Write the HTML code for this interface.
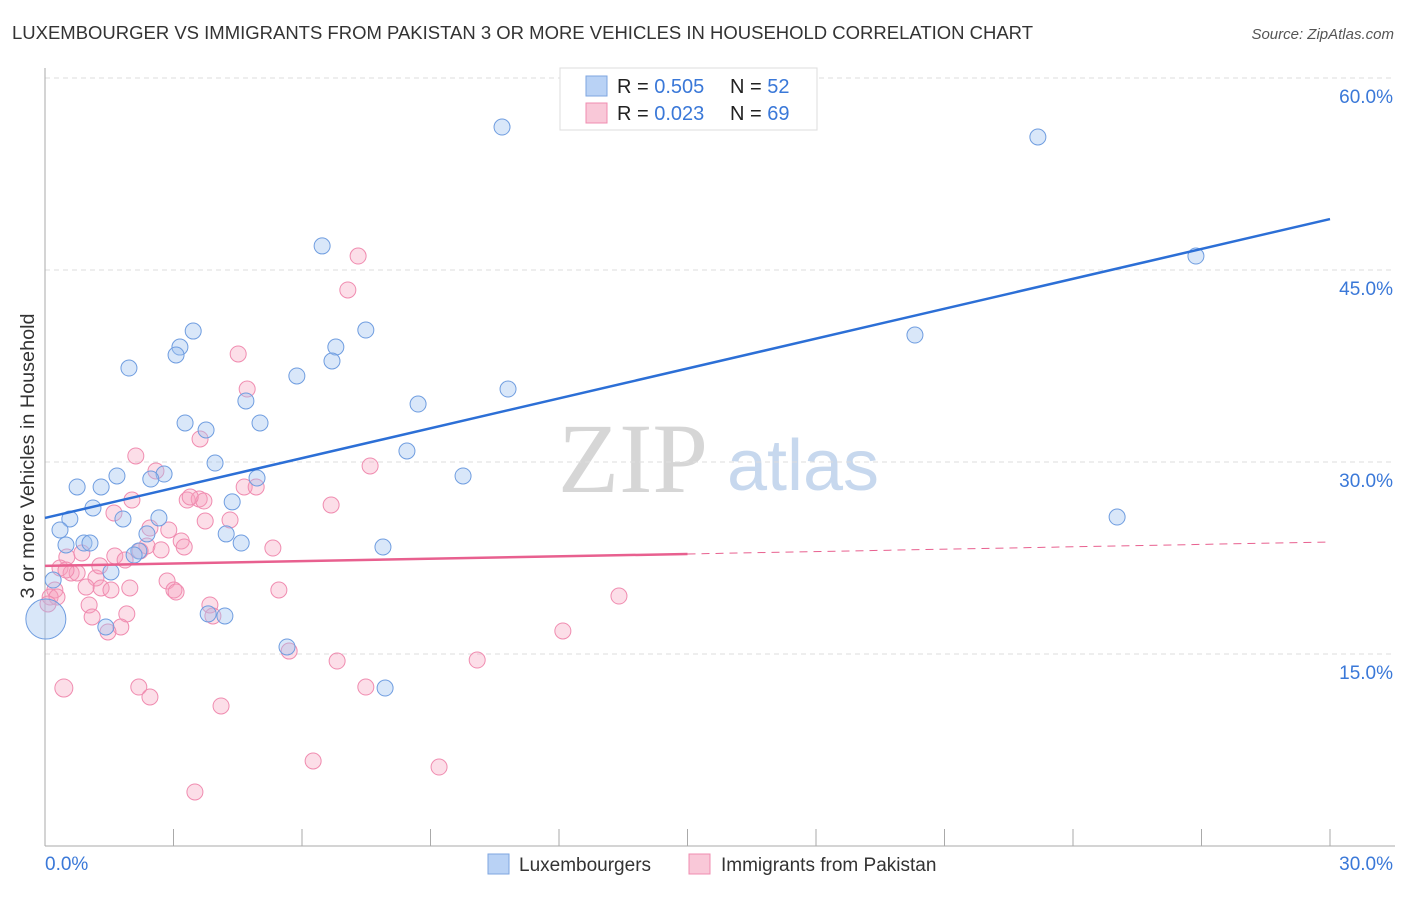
<!DOCTYPE html>
<html><head><meta charset="utf-8"><style>
body{margin:0;background:#fff;font-family:"Liberation Sans",sans-serif;}
</style></head><body>
<svg id="chart" width="1406" height="892" xmlns="http://www.w3.org/2000/svg" font-family="Liberation Sans, sans-serif">
<text x="12" y="39" font-size="18" fill="#333" textLength="1021" lengthAdjust="spacingAndGlyphs">LUXEMBOURGER VS IMMIGRANTS FROM PAKISTAN 3 OR MORE VEHICLES IN HOUSEHOLD CORRELATION CHART</text>
<text x="1394" y="39" font-size="15" fill="#555" font-style="italic" text-anchor="end">Source: ZipAtlas.com</text>
<g>
<text x="633" y="492" font-size="100" fill="#d6d6d6" style="font-family:'Liberation Serif',serif" text-anchor="middle">ZIP</text>
<text x="803" y="490" font-size="72" fill="#c7d8ee" text-anchor="middle">atlas</text>
</g>
<g id="grid"></g>
<g id="axes"></g>
<g id="points"></g>
<g id="lines"></g>
<text transform="translate(34,456) rotate(-90)" font-size="19" fill="#333" text-anchor="middle" textLength="285" lengthAdjust="spacingAndGlyphs">3 or more Vehicles in Household</text>
<g>
<rect x="560" y="68" width="257" height="62" fill="#fff" stroke="#ddd"/>
<rect x="586" y="76" width="21" height="20" fill="#b9d2f5" stroke="#7ea6e0"/>
<rect x="586" y="103" width="21" height="20" fill="#f9c8d8" stroke="#f08cb0"/>
<text x="617" y="93" font-size="20" fill="#222">R = <tspan fill="#3a78d8">0.505</tspan></text>
<text x="730" y="93" font-size="20" fill="#222">N = <tspan fill="#3a78d8">52</tspan></text>
<text x="617" y="120" font-size="20" fill="#222">R = <tspan fill="#3a78d8">0.023</tspan></text>
<text x="730" y="120" font-size="20" fill="#222">N = <tspan fill="#3a78d8">69</tspan></text>
</g>
<g>
<rect x="488" y="854" width="21" height="20" fill="#b9d2f5" stroke="#7ea6e0"/>
<text x="519" y="871" font-size="19" fill="#333">Luxembourgers</text>
<rect x="689" y="854" width="21" height="20" fill="#f9c8d8" stroke="#f08cb0"/>
<text x="721" y="871" font-size="19" fill="#333">Immigrants from Pakistan</text>
</g>
</svg>
<script>
const blueX=[10.67,23.18,26.87,6.47,7.49,3.46,3.15,6.79,3.06,6.70,1.96,5.88,20.31,10.81,4.69,8.71,3.27,3.76,5.02,8.45,3.97,9.76,1.68,2.78,2.47,0.75,1.31,4.95,4.37,1.12,1.82,2.66,0.58,25.03,0.35,2.38,4.23,4.58,0.49,0.91,1.05,2.19,7.89,1.54,0.19,0.02,1.42,3.81,4.20,5.65,7.94,2.08];
const blueY=[56.17,55.39,46.09,46.88,40.31,40.23,38.98,38.98,38.36,37.89,37.34,36.72,39.92,35.70,34.77,34.53,33.05,32.50,33.05,30.86,29.92,28.91,28.91,29.06,28.67,28.05,28.05,28.75,26.88,26.41,25.55,25.63,25.55,25.70,24.69,24.38,24.38,23.67,23.52,23.67,23.67,23.05,23.36,21.41,20.78,17.73,17.11,18.13,17.97,15.55,12.34,22.73];
const blueSize=[8,8,8,8,8,8,8,8,8,8,8,8,8,8,8,8,8,8,8,8,8,8,8,8,8,8,8,8,8,8,8,8,8,8,8,8,8,8,8,8,8,8,8,8,8,20,8,8,8,8,8,8];
const pinkX=[7.31,7.07,4.51,4.72,2.12,3.62,7.59,2.59,2.03,1.61,6.68,3.32,3.60,3.71,3.39,4.65,4.93,3.74,2.89,3.18,2.38,2.71,3.25,1.63,1.87,5.32,0.51,0.86,0.35,0.61,0.75,1.19,2.85,3.01,5.46,1.31,1.98,0.96,0.23,0.12,0.28,0.07,1.03,1.10,1.91,3.85,3.92,1.77,1.47,13.40,12.09,5.70,6.82,10.09,0.44,2.19,2.45,7.49,4.11,6.26,9.20,3.50,1.54,2.22,0.49,1.28,4.32,2.45,3.06];
const pinkY=[46.09,43.44,38.44,35.70,30.47,31.80,29.69,29.30,27.03,26.02,26.64,27.03,27.11,26.95,27.27,28.05,28.05,25.39,24.69,23.83,23.44,23.13,23.36,22.66,22.34,23.28,22.58,22.89,21.72,21.33,21.33,20.94,20.70,20.00,20.00,20.16,20.16,20.23,20.00,19.45,19.45,18.91,18.83,17.89,18.13,18.83,17.97,17.11,16.72,19.53,16.80,15.23,14.45,14.53,12.34,12.42,11.64,12.42,10.94,6.64,6.17,4.22,20.00,23.05,21.56,21.88,25.47,24.84,19.84];
const blueLine=[25.63,48.98];
const pinkLine=[21.88,23.75];
const yTicks=[15,30,45,60];
const yTickLabels=["15.0%","30.0%","45.0%","60.0%"];
const xTicks=[0,3,6,9,12,15,18,21,24,27,30];
const NS="http://www.w3.org/2000/svg";
const X0=45,X1=1330,Y0=846,PPY=12.8;
const sx=v=>X0+(v/30)*(X1-X0);
const sy=v=>Y0-v*PPY;
function mk(tag,attrs,parent){const e=document.createElementNS(NS,tag);for(const k in attrs)e.setAttribute(k,attrs[k]);document.getElementById(parent).appendChild(e);return e;}
yTicks.forEach((t,i)=>{
  const g=mk('line',{x1:45,x2:1395,y1:sy(t),y2:sy(t),stroke:'#ddd','stroke-dasharray':'5,4'},'grid');
  
  
  const tx=mk('text',{x:1393,y:sy(t)+25,'font-size':19,fill:'#3a78d8','text-anchor':'end'},'axes');
  tx.textContent=yTickLabels[i];
  
  
});
const ya=mk('line',{x1:45,x2:45,y1:68,y2:846,stroke:'#aaa'},'axes');


const xa=mk('line',{x1:45,x2:1395,y1:846,y2:846,stroke:'#aaa'},'axes');


xTicks.forEach(t=>{
  const l=mk('line',{x1:sx(t),x2:sx(t),y1:829,y2:846,stroke:'#aaa'},'axes');
  
  
});
const xl0=mk('text',{x:45,y:870,'font-size':19,fill:'#3a78d8'},'axes');xl0.textContent='0.0%';


const xl1=mk('text',{x:1393,y:870,'font-size':19,fill:'#3a78d8','text-anchor':'end'},'axes');xl1.textContent='30.0%';


pinkX.forEach((x,i)=>{
  const c=mk('circle',{cx:sx(x),cy:sy(pinkY[i]),r:(i==54?9:8),fill:'rgba(245,160,190,0.35)',stroke:'#f08cb0','stroke-width':1},'points');
  
  
});
blueX.forEach((x,i)=>{
  const c=mk('circle',{cx:sx(x),cy:sy(blueY[i]),r:blueSize[i],fill:'rgba(160,195,240,0.4)',stroke:'#6f9de0','stroke-width':1},'points');
  
  
});
const bl=mk('line',{x1:sx(0),y1:sy(blueLine[0]),x2:sx(30),y2:sy(blueLine[1]),stroke:'#2c6fd6','stroke-width':2.5},'lines');


const pm=pinkLine[0]+(pinkLine[1]-pinkLine[0])*0.5;
const pl=mk('line',{x1:sx(0),y1:sy(pinkLine[0]),x2:sx(15),y2:sy(pm),stroke:'#e8608f','stroke-width':2.5},'lines');


const pd=mk('line',{x1:sx(15),y1:sy(pm),x2:sx(30),y2:sy(pinkLine[1]),stroke:'#e8608f','stroke-width':1,'stroke-dasharray':'8,6'},'lines');


</script>
</body></html>
